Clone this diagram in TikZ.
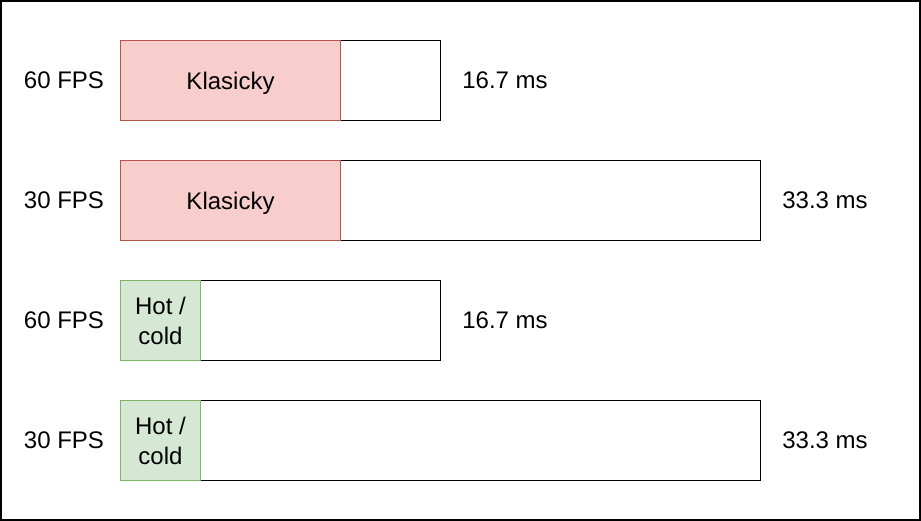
\documentclass[tikz,border=0pt]{standalone}
\usepackage{fontspec}
\setmainfont{Liberation Sans}
\definecolor{redfill}{HTML}{F8CECC}
\definecolor{redline}{HTML}{B85450}
\definecolor{greenfill}{HTML}{D5E8D4}
\definecolor{greenline}{HTML}{82B366}
\begin{document}
\begin{tikzpicture}[x=0.75pt,y=-0.75pt,
  every node/.style={font=\fontsize{18pt}{22.5pt}\selectfont, inner sep=0pt},
  framebar/.style={draw=black, line width=0.75pt, fill=white, anchor=north west},
  redbox/.style={draw=redline, fill=redfill, line width=0.75pt, anchor=north west, minimum width=165pt, minimum height=60pt, text depth=0pt},
  greenbox/.style={draw=greenline, fill=greenfill, line width=0.75pt, anchor=north west, minimum width=60pt, minimum height=60pt, align=center},
  lbl/.style={anchor=center}]
\useasboundingbox (0,0) rectangle (921,521);
\draw[line width=0.9pt] (1,1) rectangle (920,520);
% row 1
\node[framebar, minimum width=240pt, minimum height=60pt] (b1) at (120,40) {};
\node[redbox] (k1) at (120,40) {Klasicky};
\node[lbl] (f1) at (64,80) {60 FPS};
\node[lbl] (t1) at (505,80) {16.7 ms};
% row 2
\node[framebar, minimum width=480pt, minimum height=60pt] (b2) at (120,160) {};
\node[redbox] (k2) at (120,160) {Klasicky};
\node[lbl] (f2) at (64,200) {30 FPS};
\node[lbl] (t2) at (825,200) {33.3 ms};
% row 3
\node[framebar, minimum width=240pt, minimum height=60pt] (b3) at (120,280) {};
\node[greenbox] (h3) at (120,280) {Hot /\\cold};
\node[lbl] (f3) at (64,320) {60 FPS};
\node[lbl] (t3) at (505,320) {16.7 ms};
% row 4
\node[framebar, minimum width=480pt, minimum height=60pt] (b4) at (120,400) {};
\node[greenbox] (h4) at (120,400) {Hot /\\cold};
\node[lbl] (f4) at (64,440) {30 FPS};
\node[lbl] (t4) at (825,440) {33.3 ms};
\end{tikzpicture}
\end{document}
